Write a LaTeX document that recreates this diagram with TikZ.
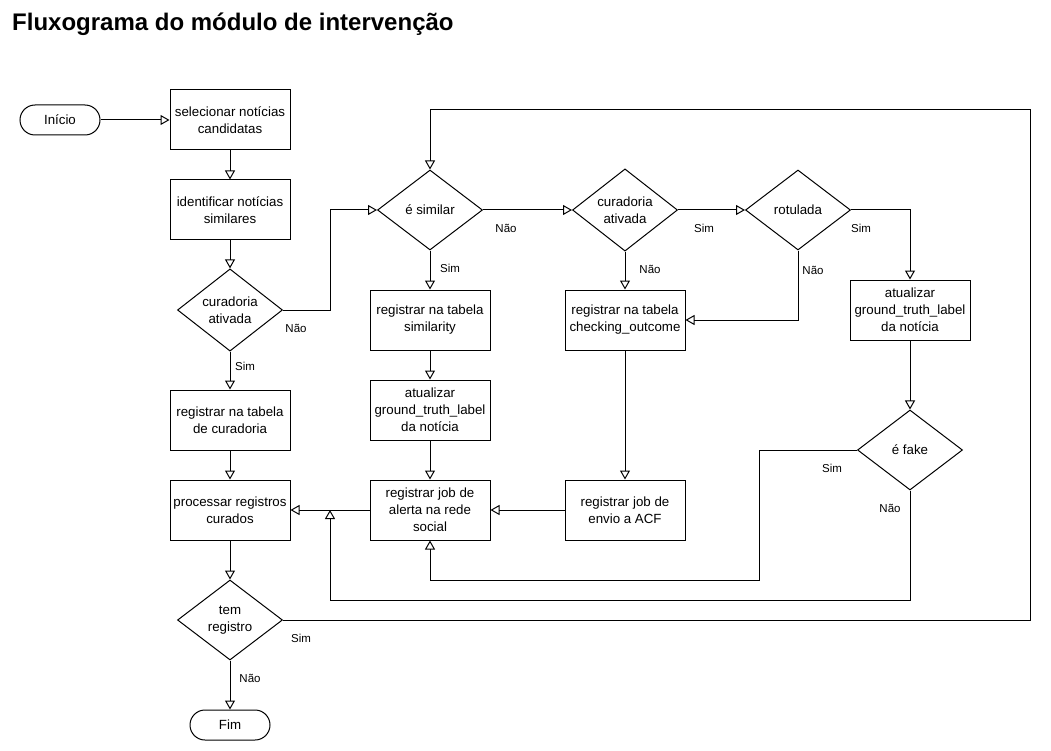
\documentclass[tikz,border=0pt]{standalone}
\usepackage{fontspec}
\setmainfont{Liberation Sans}
\usetikzlibrary{arrows.meta, shapes.geometric}
\tikzset{%
  >={Triangle[open, width=10pt, length=9pt]},
  % Specifications for style of nodes:
        base/.style = {draw=black, line width=1pt, align=center, inner sep=0pt,
                       font=\fontsize{13.3}{17}\selectfont},
     process/.style = {base, rectangle, minimum width=120pt, minimum height=60pt},
    decision/.style = {base, diamond, minimum width=105pt, minimum height=80pt},
    terminal/.style = {base, rectangle, rounded corners=15pt,
                       minimum width=80pt, minimum height=30pt},
      answer/.style = {inner sep=0pt, font=\fontsize{11.5}{14}\selectfont},
        flow/.style = {->, line width=1pt},
}

\begin{document}
\begin{tikzpicture}[x=1pt, y=-1pt]
  \useasboundingbox (0,0) rectangle (1051,751);
  \node (title) [anchor=base west, inner sep=0pt, font=\fontsize{24}{28}\selectfont\bfseries]
        at (12,31) {Fluxograma do módulo de intervenção};

  % Specification of nodes (position, etc.)
  \node (inicio)     [terminal] at (60,120)  {Início};
  \node (selecionar) [process]  at (230,120) {selecionar notícias\\candidatas};
  \node (identificar)[process]  at (230,210) {identificar notícias\\similares};
  \node (curadoria)  [decision] at (230,310) {curadoria\\ativada};
  \node (regcur)     [process]  at (230,420) {registrar na tabela\\de curadoria};
  \node (processar)  [process]  at (230,510) {processar registros\\curados};
  \node (temreg)     [decision] at (230,620) {tem\\registro};
  \node (fim)        [terminal] at (230,725) {Fim};

  \node (similar)    [decision] at (430,210) {é similar};
  \node (regsim)     [process]  at (430,320) {registrar na tabela\\similarity};
  \node (atualsim)   [process]  at (430,410) {atualizar\\ground\_truth\_label\\da notícia};
  \node (alerta)     [process]  at (430,510) {registrar job de\\alerta na rede\\social};

  \node (curadoria2) [decision] at (625,210) {curadoria\\ativada};
  \node (checking)   [process]  at (625,320) {registrar na tabela\\checking\_outcome};
  \node (envio)      [process]  at (625,510) {registrar job de\\envio a ACF};

  \node (rotulada)   [decision] at (798,210) {rotulada};
  \node (atualrot)   [process]  at (910,310) {atualizar\\ground\_truth\_label\\da notícia};
  \node (fake)       [decision] at (910,450) {é fake};

  \coordinate (juncao) at (330,510);

  % Specification of lines between nodes specified above
  % with aditional nodes for the answers
  \draw[flow] (inicio) -- (selecionar);
  \draw[flow] (selecionar) -- (identificar);
  \draw[flow] (identificar) -- (curadoria);
  \draw[flow] (curadoria.east) node[answer, xshift=13pt, yshift=-18pt]{Não}
              -- ++(47,0) |- (similar.west);
  \draw[flow] (curadoria.south) node[answer, xshift=15pt, yshift=-15pt]{Sim} -- (regcur);
  \draw[flow] (regcur) -- (processar);
  \draw[flow] (processar) -- (temreg);
  \draw[flow] (temreg.south) node[answer, xshift=20pt, yshift=-18pt]{Não} -- (fim);
  \draw[flow] (temreg.east) node[answer, xshift=18pt, yshift=-18pt]{Sim}
              -| (1030,110) -| (similar.north);

  \draw[flow] (similar.east) node[answer, xshift=23pt, yshift=-18pt]{Não} -- (curadoria2.west);
  \draw[flow] (similar.south) node[answer, xshift=20pt, yshift=-18pt]{Sim} -- (regsim);
  \draw[flow] (regsim) -- (atualsim);
  \draw[flow] (atualsim) -- (alerta);
  \draw[flow] (alerta) -- (processar);

  \draw[flow] (curadoria2.east) node[answer, xshift=26pt, yshift=-18pt]{Sim} -- (rotulada.west);
  \draw[flow] (curadoria2.south) node[answer, xshift=25pt, yshift=-18pt]{Não} -- (checking);
  \draw[flow] (checking) -- (envio);
  \draw[flow] (envio) -- (alerta);

  \draw[flow] (rotulada.south) node[answer, xshift=15pt, yshift=-20pt]{Não} |- (checking.east);
  \draw[flow] (rotulada.east) node[answer, xshift=10pt, yshift=-18pt]{Sim} -| (atualrot.north);
  \draw[flow] (atualrot) -- (fake);
  \draw[flow] (fake.west) node[answer, xshift=-25pt, yshift=-18pt]{Sim}
              -- ++(-98,0) -- ++(0,130) -| (alerta.south);
  \draw[flow] (fake.south) node[answer, xshift=-20pt, yshift=-18pt]{Não}
              -- ++(0,110) -| (juncao);
\end{tikzpicture}
\end{document}
